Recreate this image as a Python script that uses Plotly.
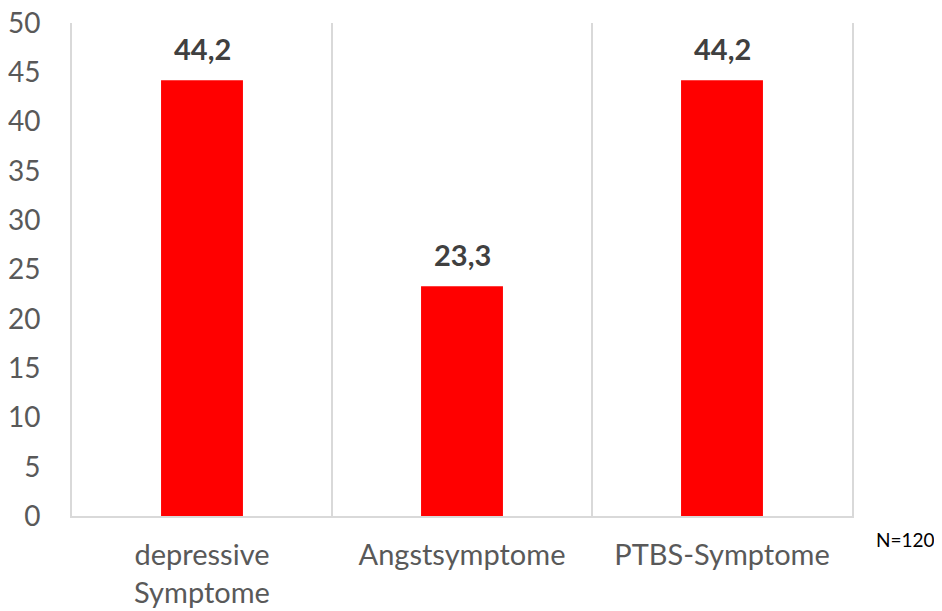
import plotly.graph_objects as go

categories = ["depressive<br>Symptome", "Angstsymptome", "PTBS-Symptome"]
values = [44.2, 23.3, 44.2]
y_ticks = [0, 5, 10, 15, 20, 25, 30, 35, 40, 45, 50]
note = "N=120"

FONT = "Lato"
fig = go.Figure(go.Bar(
    x=categories, y=values,
    marker=dict(color="#ff0000", line=dict(width=0)),
    width=0.315,
))
for c, v in zip(categories, values):
    fig.add_annotation(x=c, y=v, text=f"{v:.1f}".replace(".", ","), showarrow=False,
                       yanchor="bottom", yshift=12,
                       font=dict(family=FONT, size=29, color="#404040", weight="bold"))
fig.update_layout(
    width=934, height=603,
    margin=dict(l=64, r=90, t=15, b=95, autoexpand=False),
    plot_bgcolor="white", paper_bgcolor="white",
    showlegend=False,
    font=dict(family=FONT, color="#595959"),
)
fig.update_xaxes(
    type="category", tickson="boundaries", showgrid=True, gridcolor="#d9d9d9", gridwidth=2,
    showline=True, linecolor="#d9d9d9", linewidth=2, automargin=False,
    ticks="", tickfont=dict(size=29, color="#595959"), ticklabelstandoff=12,
)
fig.update_yaxes(
    range=[0, 50], tickvals=y_ticks, showgrid=False, zeroline=False, automargin=False,
    showline=True, linecolor="#d9d9d9", linewidth=2, mirror=True, ticklabeloverflow="allow",
    ticks="", tickfont=dict(size=28, color="#595959"), ticklabelstandoff=24,
)
fig.add_annotation(text=note, xref="paper", yref="paper", x=1.068, y=-0.075,
                   xanchor="center", showarrow=False,
                   font=dict(family=FONT, size=19, color="#000000"))
fig.write_html("out.html")
